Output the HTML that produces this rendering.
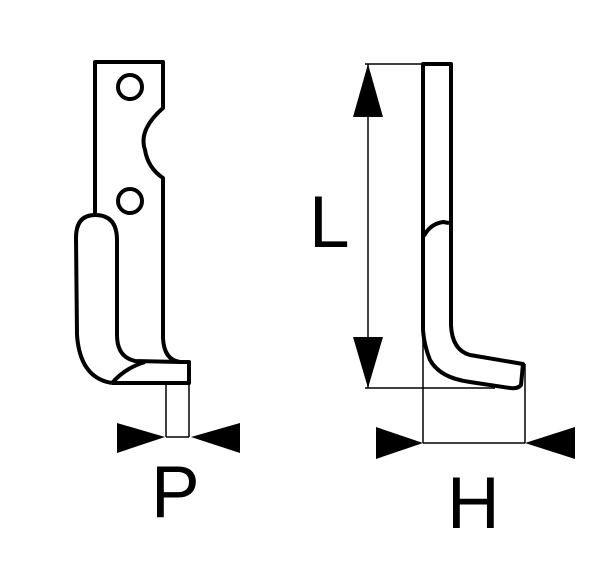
<!DOCTYPE html>
<html><head><style>html,body{margin:0;padding:0;background:#fff;width:600px;height:569px;overflow:hidden}</style></head>
<body>
<svg width="600" height="569" viewBox="0 0 600 569" xmlns="http://www.w3.org/2000/svg">
<g fill="none" stroke="#000" stroke-width="4" stroke-linejoin="round">
  <!-- left part plate -->
  <path d="M95,215 L95,62 L163,62 L163,108 Q138,130 145,150 Q148,168 163,178 L163,338 Q164,360 180,362 L189,362 L189,383 L112,383"/>
  <!-- hook -->
  <path d="M95,215 Q76,215 76,238 L77,335 Q80,378 112,383"/>
  <path d="M95,215 Q117,215 117,240 L117,335 Q117,357 135,361 L180,362"/>
  <path d="M112,383 Q125,368 145,362"/>
  <circle cx="130" cy="87" r="12"/>
  <circle cx="130" cy="201" r="12"/>
  <!-- right part -->
  <path d="M423,64 L451,64 L451,325 Q452,350 470,355 L523,364 L521,385 Q518,389 510,388 L470,382 Q440,378 430,360 Q424,345 423,330 Z"/>
  <path d="M424,236 Q430,224 443,222 L449,223"/>
</g>
<g fill="none" stroke="#000" stroke-width="1.5">
  <line x1="166" y1="383" x2="166" y2="437"/>
  <line x1="189" y1="383" x2="189" y2="437"/>
  <line x1="166" y1="437" x2="189" y2="437"/>
  <line x1="365" y1="64" x2="451" y2="64"/>
  <line x1="365" y1="388" x2="495" y2="388"/>
  <line x1="368" y1="64" x2="368" y2="388"/>
  <line x1="423" y1="330" x2="423" y2="443"/>
  <line x1="525" y1="364" x2="525" y2="443"/>
  <line x1="423" y1="443" x2="525" y2="443"/>
</g>
<g fill="#000">
  <path d="M117,423 L165,437 L117,453 Z"/>
  <path d="M240,423 L191,437 L240,453 Z"/>
  <path d="M368,64 L383,117 L353,117 Z"/>
  <path d="M368,388 L383,337 L353,337 Z"/>
  <path d="M376,427 L423,443 L376,459 Z"/>
  <path d="M575,427 L525,443 L575,459 Z"/>
</g>
<g font-family="Liberation Sans, sans-serif" font-size="73" fill="#000">
  <text x="309" y="247">L</text>
  <text x="151" y="517">P</text>
  <text x="447" y="528">H</text>
</g>
</svg>
</body></html>
